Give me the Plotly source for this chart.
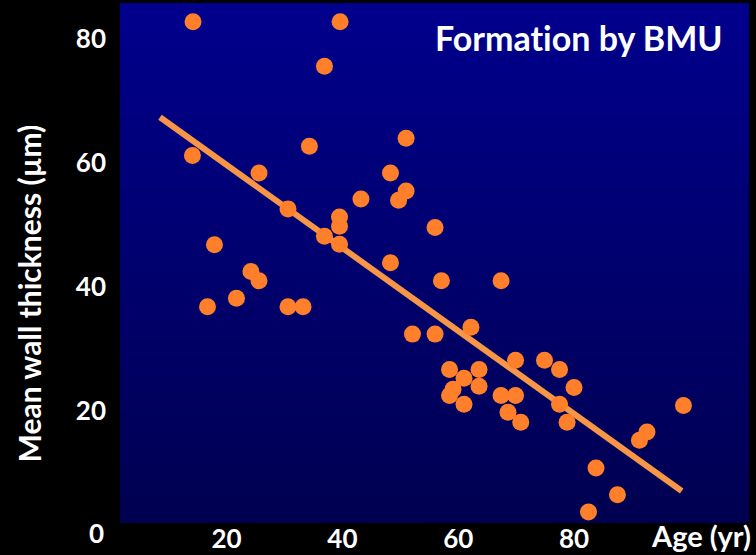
import plotly.graph_objects as go

# Age (years) and mean wall thickness (µm) of each bone sample
age = [14.2, 39.6, 36.9, 14.1, 34.3, 51.0, 25.6, 48.3, 51.0, 49.7,
       43.2, 30.6, 39.5, 39.5, 56.0, 36.9, 39.5, 17.9, 48.3, 24.2,
       25.6, 57.1, 67.4, 21.7, 16.7, 30.6, 33.2, 52.1, 56.0, 62.2,
       58.5, 63.6, 61.0, 69.9, 74.9, 77.5, 63.6, 80.0, 59.1, 58.5,
       67.4, 69.9, 61.0, 77.5, 98.9, 68.6, 70.8, 78.8, 92.6, 91.3,
       83.8, 87.5, 82.5]
thickness = [82.8, 82.8, 75.6, 61.2, 62.7, 64.0, 58.4, 58.4, 55.5, 54.0,
             54.2, 52.6, 51.3, 49.8, 49.6, 48.2, 46.9, 46.8, 43.9, 42.5,
             41.0, 41.0, 41.0, 38.2, 36.8, 36.8, 36.8, 32.4, 32.4, 33.5,
             26.7, 26.7, 25.3, 28.2, 28.2, 26.7, 24.0, 23.8, 23.5, 22.5,
             22.5, 22.5, 21.1, 21.1, 20.9, 19.8, 18.2, 18.2, 16.6, 15.3,
             10.8, 6.5, 3.7]

# Linear trend: thickness = intercept + slope * age, drawn over this age span
trend_slope = -0.669
trend_intercept = 73.06
trend_age_span = [8.5, 98.6]

tick_values = [20, 40, 60, 80]
tick_labels = ["20", "40", "60", "80"]

FONT = "Lato, 'Open Sans', sans-serif"
WHITE = "#FFFFFF"

fig = go.Figure()

fig.add_trace(go.Scatter(
    x=trend_age_span,
    y=[trend_intercept + trend_slope * a for a in trend_age_span],
    mode="lines",
    line=dict(color="#F79646", width=6),
    hoverinfo="skip",
    showlegend=False,
))

fig.add_trace(go.Scatter(
    x=age, y=thickness,
    mode="markers",
    marker=dict(color="#FF7F2A", size=17, line=dict(width=0)),
    showlegend=False,
))

# Vertical blue gradient behind the plotting area
n_bands = 60
top_rgb = (0, 0, 140)
bottom_rgb = (0, 0, 80)
shapes = []
for i in range(n_bands):
    t = (i + 0.5) / n_bands
    col = tuple(round(b + (tp - b) * t) for b, tp in zip(bottom_rgb, top_rgb))
    shapes.append(dict(
        type="rect", xref="paper", yref="paper",
        x0=0, x1=1, y0=i / n_bands, y1=(i + 1) / n_bands + 0.002,
        fillcolor="rgb(%d,%d,%d)" % col, line=dict(width=0), layer="below",
    ))

axis_font = dict(family=FONT, size=26, color=WHITE, weight="bold")

fig.update_layout(
    width=756, height=555,
    margin=dict(l=120, r=7, t=4, b=32, autoexpand=False),
    paper_bgcolor="#000000",
    plot_bgcolor="#000000",
    shapes=shapes,
    xaxis=dict(
        range=[1.589, 110.22],
        tickvals=tick_values, ticktext=tick_labels,
        tickfont=axis_font, automargin=False,
        showgrid=False, zeroline=False, showline=False, ticks="",
        ticklabelstandoff=-2,
    ),
    yaxis=dict(
        range=[1.935, 85.645],
        tickvals=tick_values, ticktext=tick_labels,
        tickfont=axis_font, automargin=False,
        showgrid=False, zeroline=False, showline=False, ticks="",
        ticklabelstandoff=13,
    ),
    annotations=[
        dict(text="Format\u200cion by BMU", xref="paper", yref="paper",
             x=0.962, y=0.936, xanchor="right", yanchor="middle",
             showarrow=False,
             font=dict(family=FONT, size=34, color=WHITE, weight="bold")),
        dict(text="Mean wall thickness (µm)", xref="paper", yref="paper",
             x=-0.145, y=0.442, xanchor="center", yanchor="middle",
             textangle=-90, showarrow=False,
             font=dict(family=FONT, size=30, color=WHITE, weight="bold")),
        dict(text="Age (yr)", xref="paper", yref="paper",
             x=1.006, y=-0.025, xanchor="right", yanchor="middle",
             showarrow=False,
             font=dict(family=FONT, size=29, color=WHITE, weight="bold")),
        dict(text="0", xref="paper", yref="paper",
             x=-0.038, y=-0.02, xanchor="center", yanchor="middle",
             showarrow=False, font=axis_font),
    ],
)

fig.write_html("out.html")
